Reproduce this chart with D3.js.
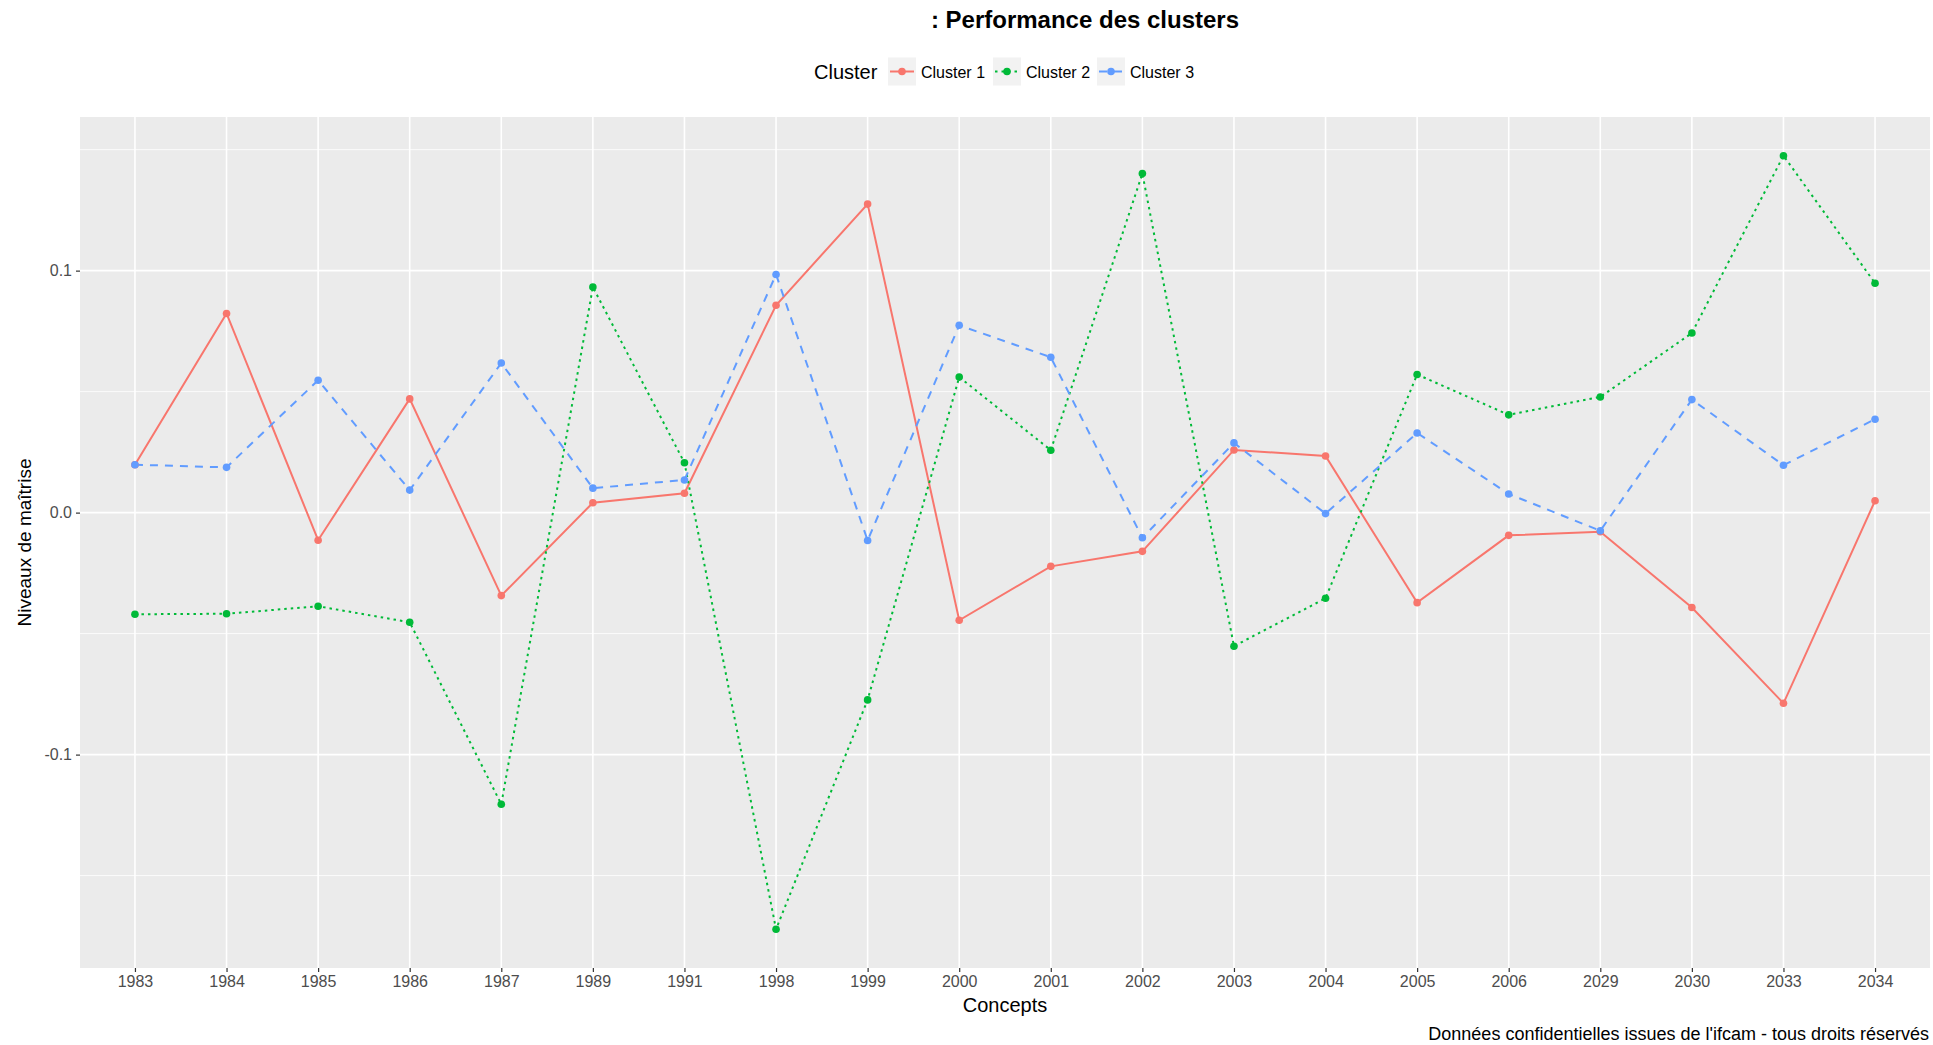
<!DOCTYPE html>
<html>
<head>
<meta charset="utf-8">
<script src="https://cdn.jsdelivr.net/npm/d3@7"></script>
<style>
    body { margin: 0; background: #fff; }
    svg { display: block; font-family: "Liberation Sans", Arial, sans-serif; }
    .tick-label { fill: #4d4d4d; font-size: 16px; }
</style>
</head>
<body>
<svg id="chart" width="1933" height="1045"></svg>
<script>
var concepts = ['1983', '1984', '1985', '1986', '1987', '1989', '1991', '1998', '1999', '2000',
    '2001', '2002', '2003', '2004', '2005', '2006', '2029', '2030', '2033', '2034'];

var cluster1 = [0.0198, 0.0823, -0.0114, 0.0470, -0.0343, 0.0041, 0.0080, 0.0857, 0.1275, -0.0445,
    -0.0222, -0.0160, 0.0259, 0.0234, -0.0372, -0.0094, -0.0079, -0.0392, -0.0788, 0.0049];
var cluster2 = [-0.0420, -0.0418, -0.0387, -0.0453, -0.1205, 0.0932, 0.0206, -0.1722, -0.0774, 0.0560,
    0.0258, 0.1401, -0.0552, -0.0354, 0.0571, 0.0404, 0.0478, 0.0742, 0.1475, 0.0948];
var cluster3 = [0.0198, 0.0187, 0.0547, 0.0093, 0.0618, 0.0101, 0.0135, 0.0984, -0.0115, 0.0774,
    0.0642, -0.0104, 0.0288, -0.0004, 0.0329, 0.0077, -0.0075, 0.0467, 0.0196, 0.0386];

var seriesNames = ['Cluster 1', 'Cluster 2', 'Cluster 3'];
var seriesColors = ['#F8766D', '#00BA38', '#619CFF'];
var seriesDash = [null, '2.5,4', '8,7'];
var yTicks = [-0.1, 0.0, 0.1];
var yMinor = [-0.15, -0.05, 0.05, 0.15];

var panel = { left: 80, right: 1930, top: 117, bottom: 968 };

var series = [cluster1, cluster2, cluster3].map(function(values, k) {
    return {
        name: seriesNames[k],
        color: seriesColors[k],
        dash: seriesDash[k],
        points: values.map(function(v, i) { return { concept: concepts[i], value: v }; })
    };
});

var svg = d3.select('#chart');

var x = d3.scalePoint()
    .domain(concepts)
    .range([panel.left, panel.right])
    .padding(0.6);

// ggplot style 5% expansion
var all = d3.merge([cluster1, cluster2, cluster3]);
var ext = d3.extent(all);
var pad = (ext[1] - ext[0]) * 0.05;
var y = d3.scaleLinear()
    .domain([ext[0] - pad, ext[1] + pad])
    .range([panel.bottom, panel.top]);

// panel background
svg.append('rect')
    .attr('x', panel.left)
    .attr('y', panel.top)
    .attr('width', panel.right - panel.left)
    .attr('height', panel.bottom - panel.top)
    .attr('fill', '#EBEBEB');

// minor grid
svg.append('g').selectAll('line')
    .data(yMinor)
    .join('line')
    .attr('x1', panel.left)
    .attr('x2', panel.right)
    .attr('y1', function(d) { return y(d); })
    .attr('y2', function(d) { return y(d); })
    .attr('stroke', '#fff')
    .attr('stroke-width', 0.8);

// major grid
svg.append('g').selectAll('line')
    .data(yTicks)
    .join('line')
    .attr('x1', panel.left)
    .attr('x2', panel.right)
    .attr('y1', function(d) { return y(d); })
    .attr('y2', function(d) { return y(d); })
    .attr('stroke', '#fff')
    .attr('stroke-width', 1.6);

svg.append('g').selectAll('line')
    .data(concepts)
    .join('line')
    .attr('x1', function(d) { return x(d); })
    .attr('x2', function(d) { return x(d); })
    .attr('y1', panel.top)
    .attr('y2', panel.bottom)
    .attr('stroke', '#fff')
    .attr('stroke-width', 1.6);

// axes
var xAxis = svg.append('g')
    .attr('transform', 'translate(0,' + panel.bottom + ')')
    .call(d3.axisBottom(x).tickSizeInner(4).tickSizeOuter(0).tickPadding(4));

var yAxis = svg.append('g')
    .attr('transform', 'translate(' + panel.left + ',0)')
    .call(d3.axisLeft(y).tickValues(yTicks).tickFormat(d3.format('.1f')).tickSizeInner(4).tickSizeOuter(0).tickPadding(4));

[xAxis, yAxis].forEach(function(a) {
    a.select('.domain').remove();
    a.selectAll('.tick line').attr('stroke', '#333').attr('stroke-width', 1.2);
    a.selectAll('.tick text')
        .attr('class', 'tick-label')
        .attr('font-family', null)
        .attr('font-size', null);
});
yAxis.selectAll('.tick text').text(function(d) { return d3.format('.1f')(d).replace('\u2212', '-'); });

// lines
var line = d3.line()
    .x(function(d) { return x(d.concept); })
    .y(function(d) { return y(d.value); });

svg.append('g').selectAll('path')
    .data(series)
    .join('path')
    .attr('d', function(d) { return line(d.points); })
    .attr('fill', 'none')
    .attr('stroke', function(d) { return d.color; })
    .attr('stroke-width', 2)
    .attr('stroke-dasharray', function(d) { return d.dash; });

// points
svg.append('g').selectAll('g')
    .data(series)
    .join('g')
    .attr('fill', function(d) { return d.color; })
    .selectAll('circle')
    .data(function(d) { return d.points; })
    .join('circle')
    .attr('cx', function(d) { return x(d.concept); })
    .attr('cy', function(d) { return y(d.value); })
    .attr('r', 3.8);

// titles
svg.append('text')
    .attr('x', 1085)
    .attr('y', 28)
    .attr('text-anchor', 'middle')
    .attr('font-size', 24)
    .attr('font-weight', 'bold')
    .attr('fill', '#000')
    .text(': Performance des clusters');

svg.append('text')
    .attr('x', (panel.left + panel.right) / 2)
    .attr('y', 1012)
    .attr('text-anchor', 'middle')
    .attr('font-size', 20)
    .attr('fill', '#000')
    .text('Concepts');

svg.append('text')
    .attr('transform', 'translate(31,' + (panel.top + panel.bottom) / 2 + ') rotate(-90)')
    .attr('text-anchor', 'middle')
    .attr('font-size', 19)
    .attr('fill', '#000')
    .text('Niveaux de maîtrise');

svg.append('text')
    .attr('x', 1929)
    .attr('y', 1040)
    .attr('text-anchor', 'end')
    .attr('font-size', 18)
    .attr('fill', '#000')
    .text('Données confidentielles issues de l\'ifcam - tous droits réservés');

// legend
var legendY = 71.5;
svg.append('text')
    .attr('x', 814)
    .attr('y', legendY + 7)
    .attr('font-size', 20)
    .attr('fill', '#000')
    .text('Cluster');

var keyX = [888, 993, 1097];
var legend = svg.append('g').selectAll('g')
    .data(series)
    .join('g')
    .attr('transform', function(d, i) { return 'translate(' + keyX[i] + ',' + legendY + ')'; });

legend.append('rect')
    .attr('x', 0)
    .attr('y', -14)
    .attr('width', 28)
    .attr('height', 28)
    .attr('fill', '#F2F2F2');

legend.append('line')
    .attr('x1', 2)
    .attr('x2', 26)
    .attr('stroke', function(d) { return d.color; })
    .attr('stroke-width', 2)
    .attr('stroke-dasharray', function(d) { return d.dash; });

legend.append('circle')
    .attr('cx', 14)
    .attr('r', 3.8)
    .attr('fill', function(d) { return d.color; });

legend.append('text')
    .attr('x', 33)
    .attr('y', 6)
    .attr('font-size', 16)
    .attr('fill', '#000')
    .text(function(d) { return d.name; });
</script>
</body>
</html>
